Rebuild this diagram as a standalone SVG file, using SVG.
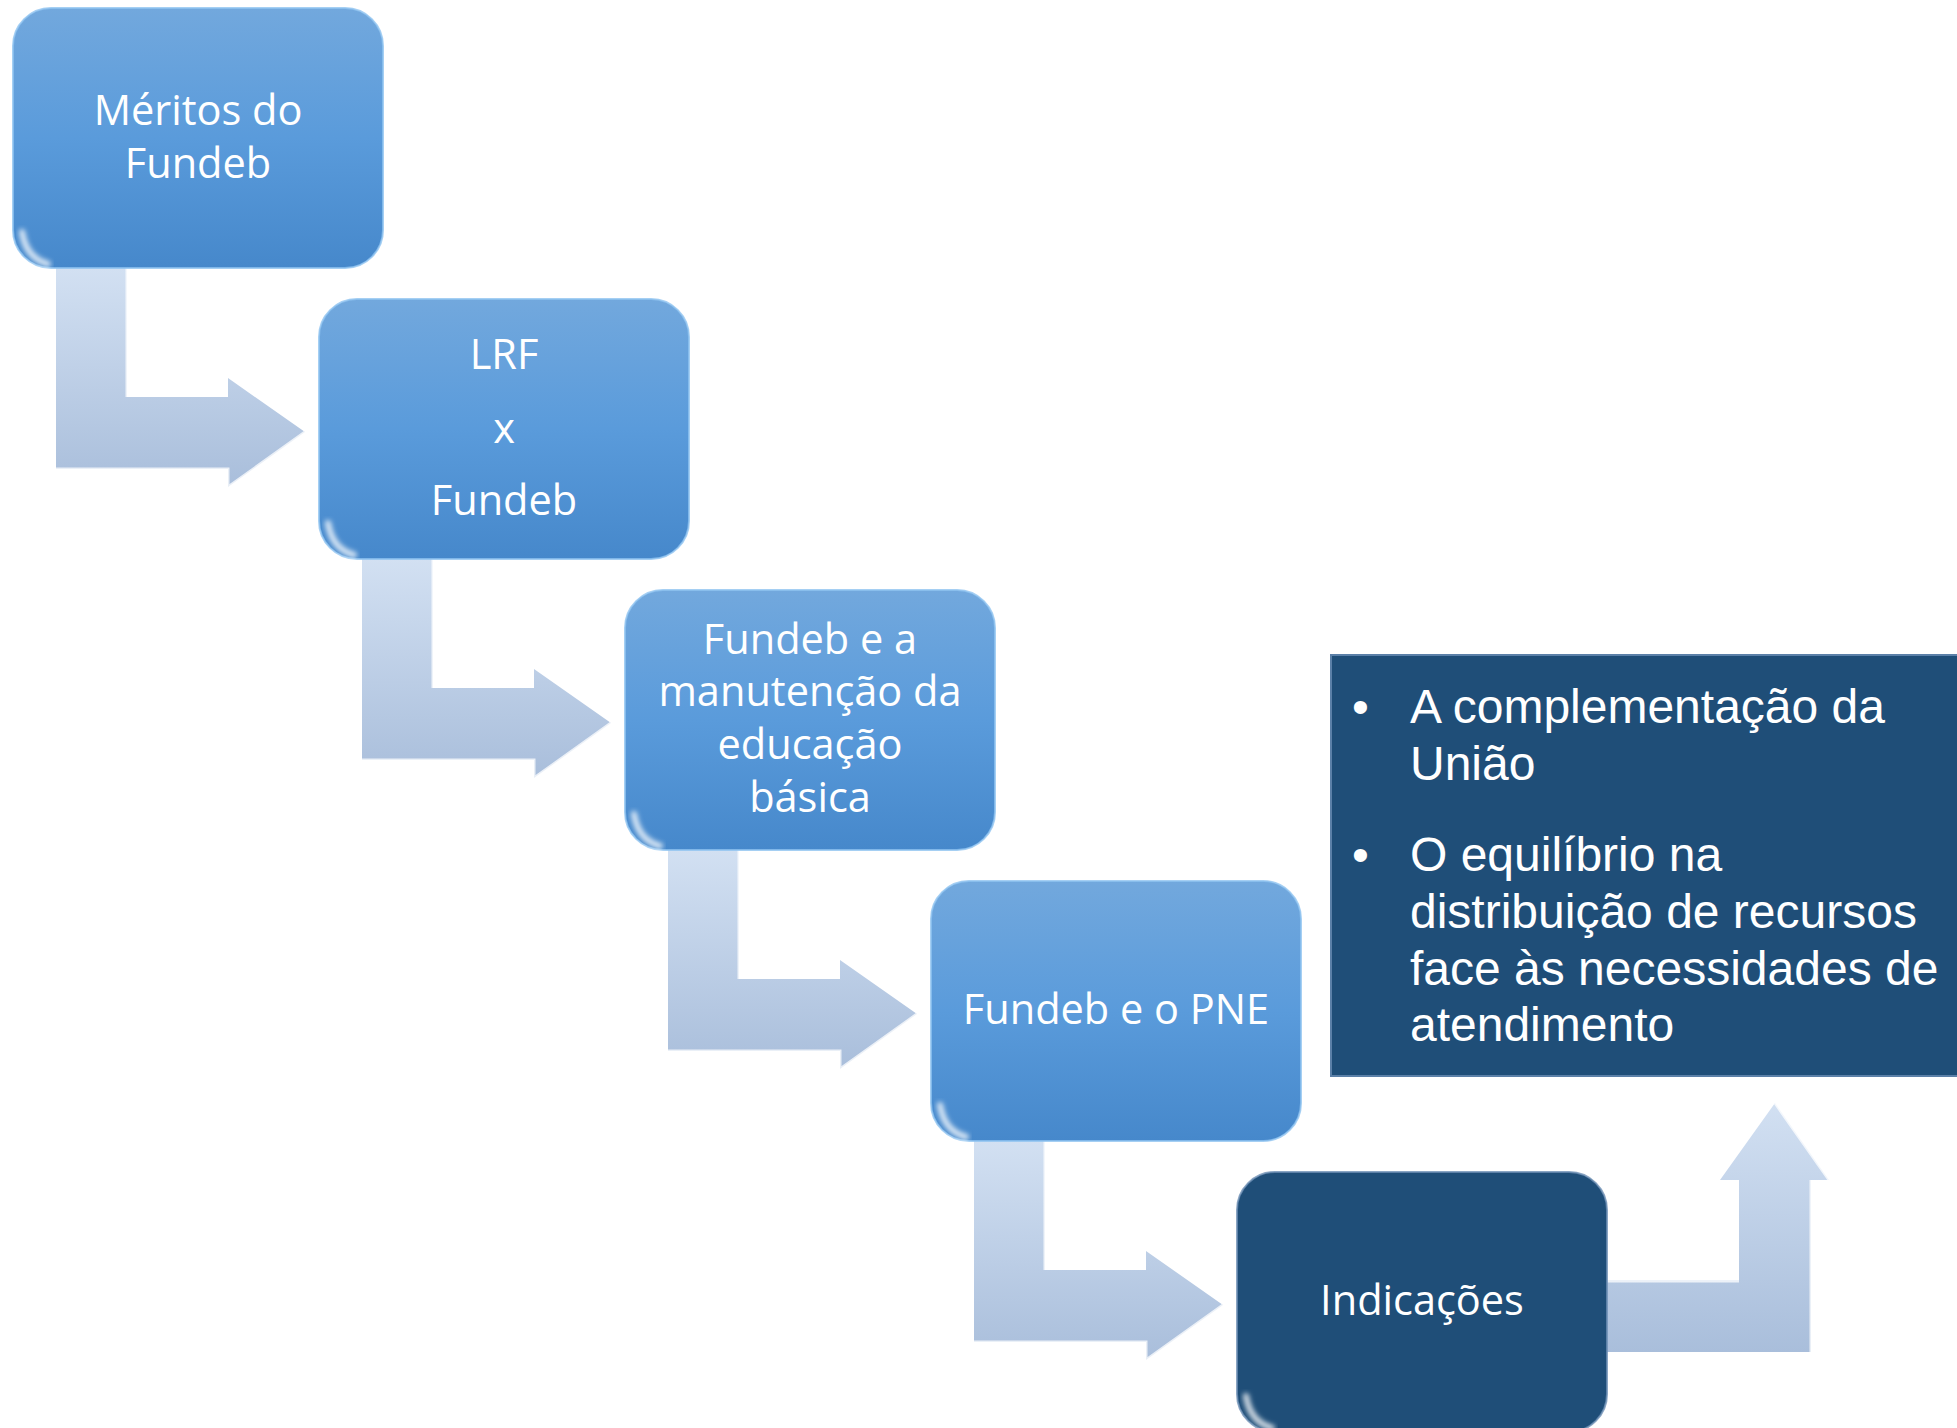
<svg xmlns="http://www.w3.org/2000/svg" width="1957" height="1428" viewBox="0 0 1957 1428">
<defs>
<linearGradient id="gBox" x1="0" y1="0" x2="0" y2="1">
<stop offset="0" stop-color="#72a8dd"/>
<stop offset="0.5" stop-color="#5a9bdb"/>
<stop offset="1" stop-color="#4688cb"/>
</linearGradient>
<linearGradient id="gArrow" x1="0" y1="0" x2="0" y2="1">
<stop offset="0" stop-color="#d2e0f2"/>
<stop offset="1" stop-color="#a9bedb"/>
</linearGradient>
<filter id="blur" x="-20%" y="-20%" width="140%" height="140%">
<feGaussianBlur stdDeviation="2.5"/>
</filter>
</defs>
<style>
.box{fill:url(#gBox);}
.dark{fill:#1f4e78;}
.arrow{fill:url(#gArrow);}
.bev{fill:none;stroke:#ffffff;stroke-opacity:0.75;stroke-width:3;}
.hl{fill:none;stroke:#ffffff;stroke-width:6;stroke-linecap:round;stroke-opacity:0.8;filter:url(#blur);}
.edge{fill:none;stroke:#8fc3f0;stroke-width:2;stroke-opacity:0.8;}
.lbl{font-family:"Open Sans","Noto Sans",sans-serif;font-size:41.5px;fill:#ffffff;text-anchor:middle;}
.bt{font-family:"Liberation Sans",Arial,sans-serif;font-size:48px;fill:#ffffff;}
</style>

<g id="connectors">
<g id="c1">
<path class="arrow" d="M56,268 L127,268 L127,397 L228,397 L228,378 L305,432 L228,487 L228,469 L56,469 Z"/>
<path class="bev" d="M127,268 L127,397 M56,469 L228,469 L228,487 L305,432"/>
</g>
<g id="c2" transform="translate(306,291)">
<path class="arrow" d="M56,268 L127,268 L127,397 L228,397 L228,378 L305,432 L228,487 L228,469 L56,469 Z"/>
<path class="bev" d="M127,268 L127,397 M56,469 L228,469 L228,487 L305,432"/>
</g>
<g id="c3" transform="translate(612,582)">
<path class="arrow" d="M56,268 L127,268 L127,397 L228,397 L228,378 L305,432 L228,487 L228,469 L56,469 Z"/>
<path class="bev" d="M127,268 L127,397 M56,469 L228,469 L228,487 L305,432"/>
</g>
<g id="c4" transform="translate(918,873)">
<path class="arrow" d="M56,268 L127,268 L127,397 L228,397 L228,378 L305,432 L228,487 L228,469 L56,469 Z"/>
<path class="bev" d="M127,268 L127,397 M56,469 L228,469 L228,487 L305,432"/>
</g>
<g id="c5">
<path class="arrow" d="M1600,1280 L1739,1280 L1739,1180 L1720,1180 L1775,1103 L1829,1180 L1811,1180 L1811,1352 L1600,1352 Z"/>
<path class="bev" d="M1600,1281 L1739,1281 M1811,1180 L1811,1352 M1775,1103 L1829,1180"/>
</g>
</g>

<g id="n1">
<rect class="box" x="13" y="8" width="370" height="260" rx="38"/>
<rect class="edge" x="13" y="8" width="370" height="260" rx="38"/>
<path class="hl" d="M50,14 L346,14"/>
<path class="hl" d="M22,232 Q26,258 48,264"/>
<text class="lbl" x="198" y="125">Méritos do</text>
<text class="lbl" x="198" y="178">Fundeb</text>
</g>

<g id="n2">
<rect class="box" x="319" y="299" width="370" height="260" rx="38"/>
<rect class="edge" x="319" y="299" width="370" height="260" rx="38"/>
<path class="hl" d="M356,305 L652,305"/>
<path class="hl" d="M328,523 Q332,549 354,555"/>
<text class="lbl" x="504" y="369">LRF</text>
<text class="lbl" x="504" y="443">x</text>
<text class="lbl" x="504" y="515">Fundeb</text>
</g>

<g id="n3">
<rect class="box" x="625" y="590" width="370" height="260" rx="38"/>
<rect class="edge" x="625" y="590" width="370" height="260" rx="38"/>
<path class="hl" d="M662,596 L958,596"/>
<path class="hl" d="M634,814 Q638,840 660,846"/>
<text class="lbl" x="810" y="654">Fundeb e a</text>
<text class="lbl" x="810" y="706">manutenção da</text>
<text class="lbl" x="810" y="759">educação</text>
<text class="lbl" x="810" y="812">básica</text>
</g>

<g id="n4">
<rect class="box" x="931" y="881" width="370" height="260" rx="38"/>
<rect class="edge" x="931" y="881" width="370" height="260" rx="38"/>
<path class="hl" d="M968,887 L1264,887"/>
<path class="hl" d="M940,1105 Q944,1131 966,1137"/>
<text class="lbl" x="1116" y="1024">Fundeb e o PNE</text>
</g>

<g id="n5">
<rect class="dark" x="1237" y="1172" width="370" height="260" rx="38"/>
<rect class="edge" x="1237" y="1172" width="370" height="260" rx="38" style="stroke:#6d8fb4"/>
<path class="hl" d="M1274,1178 L1570,1178" style="stroke-opacity:0.4"/>
<path class="hl" d="M1246,1396 Q1250,1422 1272,1428"/>
<text class="lbl" x="1422" y="1315">Indicações</text>
</g>

<g id="n6">
<rect x="1331" y="655" width="640" height="421" fill="#1f4e78" stroke="#5b80a8" stroke-width="2"/>
<text class="bt" x="1352" y="723">•</text>
<text class="bt" x="1410" y="723">A complementação da</text>
<text class="bt" x="1410" y="780">União</text>
<text class="bt" x="1352" y="871">•</text>
<text class="bt" x="1410" y="871">O equilíbrio na</text>
<text class="bt" x="1410" y="928">distribuição de recursos</text>
<text class="bt" x="1410" y="985">face às necessidades de</text>
<text class="bt" x="1410" y="1041">atendimento</text>
</g>
</svg>
